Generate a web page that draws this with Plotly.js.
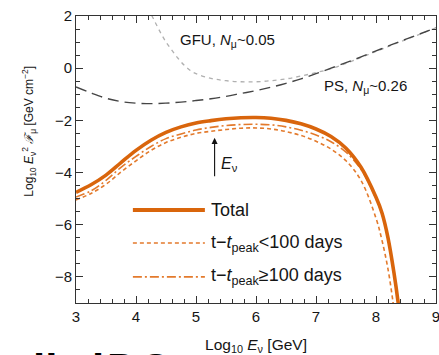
<!DOCTYPE html>
<html>
<head>
<meta charset="utf-8">
<script src="https://cdn.plot.ly/plotly-3.0.1.min.js"></script>
<style>
  html, body { margin: 0; padding: 0; background: #fff; }
  #plot { width: 439px; height: 355px; }
</style>
</head>
<body>
<div id="plot"></div>
<script>
// Neutrino energy grid, log10(E / GeV)
const logE = [3.0, 3.25, 3.5, 3.75, 4.0, 4.25, 4.5, 4.75, 5.0, 5.25, 5.5, 5.75,
              6.0, 6.25, 6.5, 6.75, 7.0, 7.25, 7.5, 7.75, 8.0, 8.1, 8.2, 8.3, 8.37, 8.4];

// log10 E^2 F_mu [GeV cm^-2]
const totalFlux = [-4.76, -4.47, -4.10, -3.62, -3.15, -2.76, -2.46, -2.25, -2.10, -2.01, -1.94, -1.90,
                   -1.89, -1.92, -2.00, -2.13, -2.33, -2.62, -3.07, -3.80, -4.95, -5.55, -6.50, -7.85, -9.00, -9.60];
const lateFlux  = [-4.94, -4.70, -4.30, -3.80, -3.38, -3.00, -2.70, -2.52, -2.37, -2.27, -2.20, -2.16,
                   -2.15, -2.17, -2.25, -2.38, -2.56, -2.82, -3.22, -3.88, -5.00, -5.60, -6.55, -7.90, -9.05, -9.65];

const earlyE    = [3.0, 3.25, 3.5, 3.75, 4.0, 4.25, 4.5, 4.75, 5.0, 5.25, 5.5, 5.75,
                   6.0, 6.25, 6.5, 6.75, 7.0, 7.25, 7.5, 7.75, 8.0, 8.1, 8.2, 8.28, 8.32];
const earlyFlux = [-5.05, -4.80, -4.45, -3.98, -3.55, -3.15, -2.85, -2.65, -2.50, -2.42, -2.35, -2.30,
                   -2.29, -2.33, -2.43, -2.58, -2.80, -3.10, -3.55, -4.30, -5.75, -6.60, -7.70, -8.90, -9.60];

// Sensitivities
const gfuE = [4.2, 4.3, 4.4, 4.5, 4.6, 4.7, 4.8, 4.9, 5.0, 5.25, 5.5, 5.75, 6.0, 6.25, 6.5,
              6.75, 7.0, 7.25, 7.5, 7.75, 8.0, 8.25, 8.5, 8.75, 9.0];
const gfuSens = [2.3, 1.85, 1.4, 1.0, 0.68, 0.38, 0.12, -0.08, -0.21, -0.39, -0.48, -0.52, -0.52, -0.48, -0.41,
                 -0.30, -0.17, -0.02, 0.18, 0.41, 0.64, 0.87, 1.10, 1.32, 1.55];
const psE = [3.0, 3.25, 3.5, 3.75, 4.0, 4.25, 4.5, 4.75, 5.0, 5.25, 5.5, 5.75, 6.0, 6.25, 6.5,
             6.75, 7.0, 7.25, 7.5, 7.75, 8.0, 8.25, 8.5, 8.75, 9.0];
const psSens = [-0.72, -0.95, -1.15, -1.28, -1.34, -1.36, -1.34, -1.30, -1.24, -1.17, -1.08, -0.97, -0.86, -0.73, -0.58,
                -0.41, -0.21, 0.00, 0.21, 0.43, 0.66, 0.89, 1.11, 1.33, 1.55];

// Tick values
const xTicks = [3, 4, 5, 6, 7, 8, 9];
const yTicks = [-8, -6, -4, -2, 0, 2];

// Legend labels
const legendLabels = ['Total',
  't\u2212<i>t</i><sub>peak</sub><100 days',
  't\u2212<i>t</i><sub>peak</sub>\u2265100 days'];

const ORANGE = '#d9650c';
const ORANGE_LT = '#e37a2c';
const FONT = 'Liberation Sans, Arial, sans-serif';
const TXT = '#151515';

const DASH_EARLY = '4px,3px';
const DASH_LATE = '9px,3px,2px,3px';

const traces = [
  { x: gfuE, y: gfuSens, line: { color: '#b0b0b0', width: 1.3, dash: '4px,4px' } },
  { x: psE, y: psSens, line: { color: '#454545', width: 1.4, dash: '11px,6px' } },
  { x: earlyE, y: earlyFlux, line: { color: ORANGE_LT, width: 1.6, dash: DASH_EARLY } },
  { x: logE, y: lateFlux, line: { color: ORANGE_LT, width: 1.6, dash: DASH_LATE } },
  { x: logE, y: totalFlux, line: { color: ORANGE, width: 3.6 } }
];
traces.forEach(t => {
  t.mode = 'lines';
  t.showlegend = false;
  t.hoverinfo = 'skip';
  t.line.shape = 'spline';
  t.line.smoothing = 1;
});

// Legend keys and labels, placed in paper units
const legendRows = [0.324, 0.209, 0.091];
const legendStyles = [
  { color: ORANGE, width: 4, dash: 'solid' },
  { color: ORANGE_LT, width: 1.6, dash: DASH_EARLY },
  { color: ORANGE_LT, width: 1.6, dash: DASH_LATE }
];
const shapes = legendRows.map((yy, i) => ({
  type: 'line', xref: 'paper', yref: 'paper', x0: 0.158, x1: 0.358, y0: yy, y1: yy,
  line: legendStyles[i]
}));

const annotations = legendRows.map((yy, i) => ({
  xref: 'paper', yref: 'paper', x: 0.37, y: yy, xanchor: 'left', yanchor: 'middle',
  text: legendLabels[i], showarrow: false, font: { family: FONT, size: 18, color: TXT }
}));

const bigFont = { family: FONT, size: 44, color: '#000' };
annotations.push(
  { x: 5.53, y: 1.08, text: 'GFU, <i>N</i><sub>μ</sub>~0.05', showarrow: false,
    font: { family: FONT, size: 15, color: TXT } },
  { x: 7.83, y: -0.72, text: 'PS, <i>N</i><sub>μ</sub>~0.26', showarrow: false,
    font: { family: FONT, size: 15, color: TXT } },
  { x: 5.31, y: -2.67, ax: 5.31, ay: -4.2, axref: 'x', ayref: 'y', text: '',
    showarrow: true, arrowhead: 2, arrowsize: 1.1, arrowwidth: 1.1, arrowcolor: '#111' },
  { x: 5.55, y: -3.71, text: '<i>E</i><sub>ν</sub>', showarrow: false,
    font: { family: FONT, size: 16, color: TXT } },
  // vertical axis label, set a little above the plot's centre
  { xref: 'paper', yref: 'paper', x: -0.131, y: 0.6, xanchor: 'center', yanchor: 'middle',
    textangle: -90, showarrow: false,
    text: 'Log<sub>10</sub> <i>E</i><sub>ν</sub><sup>2</sup> <i>ℱ</i><sub>μ</sub> [GeV cm<sup>−2</sup>]',
    font: { family: FONT, size: 12, color: TXT } },
  // large bold lettering cut off at the bottom edge
  { xref: 'paper', yref: 'paper', x: -0.125, y: -0.14, xanchor: 'left', yanchor: 'top',
    text: '<b>li</b>', showarrow: false, font: bigFont },
  { xref: 'paper', yref: 'paper', x: 0.04, y: -0.14, xanchor: 'left', yanchor: 'top',
    text: '<b>i</b>', showarrow: false, font: bigFont },
  { xref: 'paper', yref: 'paper', x: 0.08, y: -0.14, xanchor: 'left', yanchor: 'top',
    text: '<b>DO</b>', showarrow: false, font: bigFont }
);

const axisCommon = {
  showgrid: false, zeroline: false, showline: true, linecolor: '#333', linewidth: 1,
  mirror: 'allticks', ticks: 'inside', ticklen: 7, tickwidth: 1, tickcolor: '#333',
  ticklabeloverflow: 'allow',
  tickfont: { family: FONT, size: 15, color: TXT }
};

const layout = {
  width: 439, height: 355,
  margin: { l: 76, r: 3, t: 16, b: 52 },
  paper_bgcolor: '#fff', plot_bgcolor: '#fff',
  xaxis: Object.assign({}, axisCommon, {
    range: [3, 9], tickvals: xTicks, ticktext: xTicks.map(String),
    minor: { dtick: 0.2, tick0: 3, ticks: 'inside', ticklen: 4, tickcolor: '#333', tickwidth: 1 },
    title: { text: 'Log<sub>10</sub> <i>E</i><sub>ν</sub> [GeV]', standoff: 18,
             font: { family: FONT, size: 15.5, color: TXT } }
  }),
  yaxis: Object.assign({}, axisCommon, {
    range: [-9, 2], tickvals: yTicks,
    minor: { dtick: 0.5, tick0: 0, ticks: 'inside', ticklen: 4, tickcolor: '#333', tickwidth: 1 }
  }),
  shapes: shapes,
  annotations: annotations,
  showlegend: false
};

Plotly.newPlot('plot', traces, layout, { staticPlot: true, displayModeBar: false });
</script>
</body>
</html>
